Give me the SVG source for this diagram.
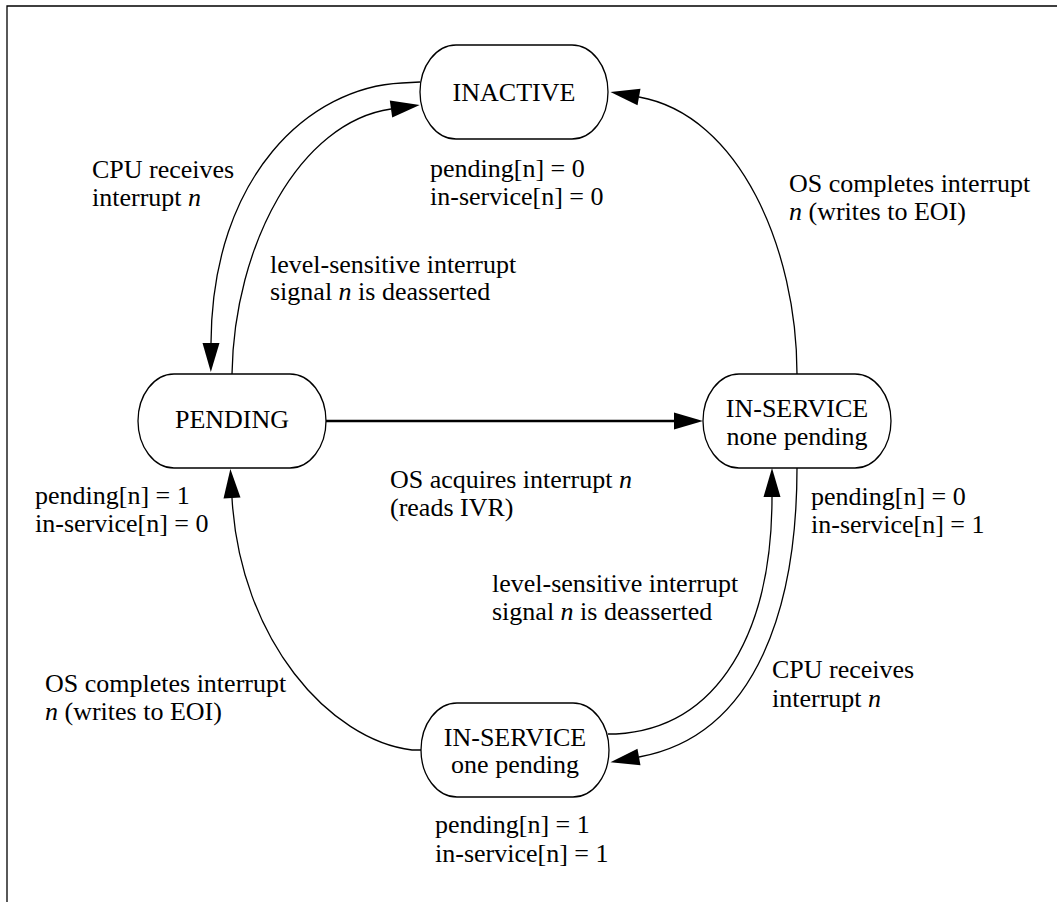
<svg xmlns="http://www.w3.org/2000/svg" width="1057" height="902" viewBox="0 0 1057 902">
<style>
.frame{fill:none;stroke:#000;stroke-width:1.3}
.node rect{fill:#fff;stroke:#000;stroke-width:1.3}
.c{fill:none;stroke:#000;stroke-width:1.3}
.thick{stroke-width:2.6}
text{font-family:"Liberation Serif","Times New Roman",serif;font-size:26px;fill:#000}
.m{text-anchor:middle}
.i{font-style:italic}
</style>
<defs>
<marker id="ah" markerUnits="userSpaceOnUse" markerWidth="30" markerHeight="18" refX="0" refY="8.5" orient="auto" overflow="visible">
<path d="M0,0 L29,8.5 L0,17 z" fill="#000"/>
</marker>
</defs>
<rect width="1057" height="902" fill="#fff"/>
<path class="frame" d="M7,902 L7,6 L1057,6"/>
<g id="connectors">
<path class="c" d="M420,82 L402,83 C310,87 212,175 211,343" marker-end="url(#ah)"/>
<path class="c" d="M232,374 C234,245 300,122 391,109" marker-end="url(#ah)"/>
<path class="c" d="M797,374 C797,250 740,115 639,97" marker-end="url(#ah)"/>
<path class="c thick" d="M326,421 L674,421" marker-end="url(#ah)"/>
<path class="c" d="M797,468 C797,600 760,735 639,757" marker-end="url(#ah)"/>
<path class="c" d="M608,734 L616,734 C720,728 772,630 772,497" marker-end="url(#ah)"/>
<path class="c" d="M421,750 L412,750 C330,740 240,640 232,498" marker-end="url(#ah)"/>
</g>
<g id="inactive" class="node">
<rect x="420" y="45" width="188" height="94" rx="36" ry="47"/>
<text class="m" x="514" y="101">INACTIVE</text>
</g>
<g id="pending" class="node">
<rect x="138" y="374" width="188" height="94" rx="36" ry="47"/>
<text class="m" x="232" y="428">PENDING</text>
</g>
<g id="inservice-none" class="node">
<rect x="703" y="374" width="188" height="94" rx="36" ry="47"/>
<text class="m" x="797" y="417">IN-SERVICE</text>
<text class="m" x="797" y="445">none pending</text>
</g>
<g id="inservice-one" class="node">
<rect x="421" y="703" width="188" height="94" rx="36" ry="47"/>
<text class="m" x="515" y="746">IN-SERVICE</text>
<text class="m" x="515" y="773">one pending</text>
</g>
<g id="labels">
<text x="430" y="177">pending[n] = 0</text>
<text x="430" y="205">in-service[n] = 0</text>
<text x="92" y="178">CPU receives</text>
<text x="92" y="206">interrupt <tspan class="i">n</tspan></text>
<text x="270" y="273">level-sensitive interrupt</text>
<text x="270" y="300">signal <tspan class="i">n</tspan> is deasserted</text>
<text x="789" y="192">OS completes interrupt</text>
<text x="789" y="220"><tspan class="i">n</tspan> (writes to EOI)</text>
<text x="390" y="488">OS acquires interrupt <tspan class="i">n</tspan></text>
<text x="390" y="516">(reads IVR)</text>
<text x="35" y="504">pending[n] = 1</text>
<text x="35" y="532">in-service[n] = 0</text>
<text x="811" y="505">pending[n] = 0</text>
<text x="811" y="533">in-service[n] = 1</text>
<text x="492" y="592">level-sensitive interrupt</text>
<text x="492" y="620">signal <tspan class="i">n</tspan> is deasserted</text>
<text x="45" y="692">OS completes interrupt</text>
<text x="45" y="720"><tspan class="i">n</tspan> (writes to EOI)</text>
<text x="772" y="678">CPU receives</text>
<text x="772" y="707">interrupt <tspan class="i">n</tspan></text>
<text x="435" y="833">pending[n] = 1</text>
<text x="435" y="862">in-service[n] = 1</text>
</g>
</svg>
